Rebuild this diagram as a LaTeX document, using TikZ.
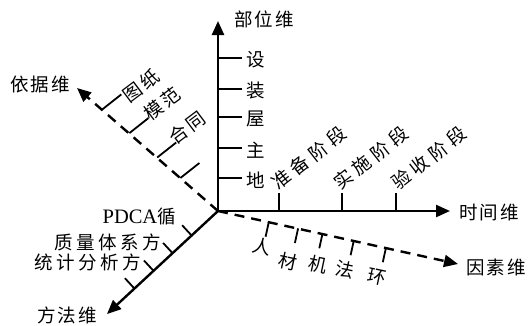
\documentclass[tikz,border=0pt]{standalone}
\usepackage{fontspec}
\setmainfont{Liberation Serif}
\newfontfamily\cjk[LetterSpace=12]{Noto Sans CJK SC}
\newfontfamily\cjkm[LetterSpace=18]{Noto Sans CJK SC}
\newfontfamily\cjkw[LetterSpace=25]{Noto Sans CJK SC}
\usetikzlibrary{arrows.meta,calc}
\begin{document}
\begin{tikzpicture}[x=1pt,y=-1pt,
  axis/.style={line width=2.4pt,-{Triangle[length=14pt,width=12pt]}},
  daxis/.style={axis,dash pattern=on 10pt off 7pt},
  tickline/.style={line width=1.8pt},
  lab/.style={font=\cjk\fontsize{18.5}{18.5}\selectfont,inner sep=0pt},
  labm/.style={font=\cjkm\fontsize{18.5}{18.5}\selectfont,inner sep=0pt},
  labw/.style={font=\cjkw\fontsize{18.5}{18.5}\selectfont,inner sep=0pt}]
\useasboundingbox (0,0) rectangle (528,325);
\fill[white] (0,0) rectangle (528,325);
% origin and axis tips
\coordinate (O) at (218,211);
\coordinate (Vt) at (218,21);
\coordinate (Ht) at (450,211);
\coordinate (Yt) at (77,88);
\coordinate (Ft) at (107,314);
\coordinate (St) at (458,264);
\draw[axis] (O) -- (Vt);
\draw[axis] (O) -- (Ht);
\draw[axis] (O) -- (Ft);
\draw[daxis] (O) -- (Yt);
\draw[daxis] (O) -- (St);
% axis labels
\node[lab] (lv) at (264,19) {部位维};
\node[lab] (lh) at (489,212) {时间维};
\node[lab] (ly) at (40,85) {依据维};
\node[lab] (lf) at (67,315) {方法维};
\node[lab] (ls) at (496,267) {因素维};
% vertical ticks
\foreach \yy/\t [count=\i] in {58/设,89/装,117/屋,148/主,178/地}{
  \coordinate (va\i) at (218,\yy);
  \coordinate (vb\i) at (242,\yy);
  \draw[tickline] (va\i) -- (vb\i);
  \node[lab] (vl\i) at ($(vb\i)+(14,2)$) {\t};
}
% horizontal ticks
\foreach \xx/\cx/\t [count=\i] in {279/309/准备阶段,342/371/实施阶段,396/429/验收阶段}{
  \coordinate (ha\i) at (\xx,211);
  \coordinate (hb\i) at (\xx,193);
  \draw[tickline] (ha\i) -- (hb\i);
  \node[labw,rotate=38] (hl\i) at (\cx,158) {\t};
}
% basis axis ticks
\foreach \ax/\ay [count=\i] in {102.3/109.4,129.4/133.1,157.2/157.5,180.4/178.0}{
  \coordinate (ya\i) at (\ax,\ay);
  \coordinate (yb\i) at ($(ya\i)+(19,-15)$);
  \draw[tickline] (ya\i) -- (yb\i);
}
\node[lab,rotate=37] (yl1) at (141,86) {图纸};
\node[lab,rotate=37] (yl2) at (162,104) {模范};
\node[lab,rotate=37] (yl3) at (187,128) {合同};
% method axis ticks
\foreach \ax/\ay [count=\i] in {191.6/235.5,172.6/253.2,153.5/270.8,134.4/288.5}{
  \coordinate (fa\i) at (\ax,\ay);
  \coordinate (fb\i) at ($(fa\i)+(-9.5,-10.3)$);
  \draw[tickline] (fa\i) -- (fb\i);
}
\node[anchor=east,inner sep=0pt] (fl1) at (176,217) {\fontsize{20.5}{20.5}\selectfont PDCA\cjk\fontsize{18.5}{18.5}\selectfont 循};
\node[labm,anchor=east] (fl2) at (161,242) {质量体系方};
\node[labm,anchor=east] (fl3) at (141,262) {统计分析方};
% factor axis ticks
\foreach \ax/\ay [count=\i] in {268.8/222.1,298.1/228.4,322.5/233.7,353.8/240.6,386.0/247.6}{
  \coordinate (sa\i) at (\ax,\ay);
  \coordinate (sb\i) at ($(sa\i)+(-3.2,14.6)$);
  \draw[tickline] (sa\i) -- (sb\i);
}
\foreach \cx/\cy/\t [count=\i] in {262/247/人,288/262/材,318/265/机,345/270/法,377/277/环}{
  \node[lab,rotate=-12] (sl\i) at (\cx,\cy) {\t};
}
\end{tikzpicture}
\end{document}
